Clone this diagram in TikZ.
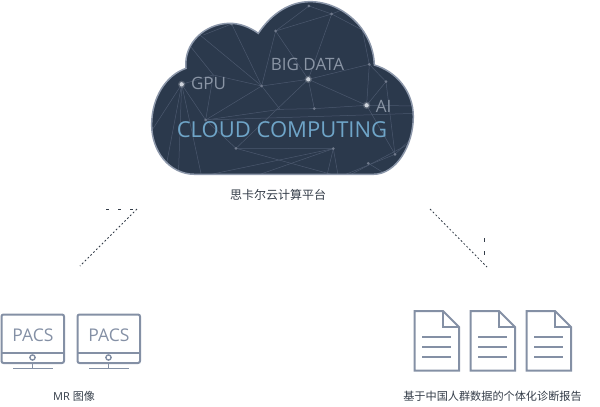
\documentclass[tikz,border=0pt]{standalone}
\usepackage{fontspec}
\setmainfont{Open Sans}
\newfontfamily\cjk{Noto Sans CJK SC}
\definecolor{cloudfill}{HTML}{2B394C}
\definecolor{cloudedge}{HTML}{8C97AA}
\definecolor{mesh}{HTML}{4B586E}
\definecolor{icon}{HTML}{8490A5}
\definecolor{greytext}{HTML}{8A95A5}
\definecolor{bluetext}{HTML}{6FA5C8}
\definecolor{caption}{HTML}{333C48}
\tikzset{
  meshline/.style={draw=mesh,line width=0.5pt},
  meshdot/.style={fill=icon!85!black},
  iconline/.style={draw=icon,line width=2pt},
  iconthin/.style={draw=icon,line width=1.6pt},
  dotlink/.style={draw=caption,line width=0.8pt,dash pattern=on 1.8pt off 2.2pt},
  cloudtext/.style={text=greytext,font=\fontsize{17}{17}\selectfont,inner sep=0pt},
  captiontext/.style={text=caption,inner sep=0pt},
  pacs/.style={text=icon,font=\fontsize{17.5}{18}\selectfont,inner sep=0pt}
}
\begin{document}
\begin{tikzpicture}[x=1pt,y=-1pt]
\useasboundingbox (0,0) rectangle (600,407);
\begin{scope}[shift={(140,0)},x=0.3333pt,y=-0.3333pt]
  \def\cloudpath{(165,523) .. controls (85,523) and (35,450) .. (35,375)
    .. controls (35,290) and (80,225) .. (138,205)
    .. controls (130,130) and (195,70) .. (270,70)
    .. controls (300,70) and (330,82) .. (355,100)
    .. controls (395,40) and (450,5) .. (510,5)
    .. controls (610,5) and (700,90) .. (703,195)
    .. controls (770,215) and (820,275) .. (820,350)
    .. controls (820,435) and (770,523) .. (700,523) -- cycle}
  \fill[cloudfill] \cloudpath;
  \begin{scope}
    \clip \cloudpath;
    \coordinate (A) at (125,253); \coordinate (B) at (275,72);
    \coordinate (C) at (365,258); \coordinate (D) at (407,93);
    \coordinate (E) at (507,18);  \coordinate (F) at (575,42);
    \coordinate (G) at (505,238); \coordinate (H) at (688,193);
    \coordinate (I) at (738,245); \coordinate (J) at (680,316);
    \coordinate (K) at (523,326); \coordinate (L) at (420,328);
    \coordinate (M) at (197,360); \coordinate (N) at (288,445);
    \coordinate (O) at (580,446); \coordinate (P) at (765,463);
    \coordinate (Q) at (685,490); \coordinate (R) at (220,225);
    \coordinate (S) at (667,90);
    \foreach \a/\b in {A/R,R/C,A/M,B/C,D/C,D/G,C/L,C/M,C/G,G/H,G/J,G/K,G/N,G/F,D/F,E/F,E/D,F/S,H/S,H/I,H/J,I/J,J/K,K/L,L/M,J/P,I/P,M/N,N/O,R/M}
      \draw[meshline] (\a) -- (\b);
    \foreach \a/\x/\y in {A/30/400,A/80/490,A/115/530,A/185/530,B/190/105,R/140/125,C/180/105,F/630/20,S/700/70,J/830/318,M/830/340,N/600/530,O/180/530,O/340/530,O/560/530,O/595/530,Q/750/530,P/600/530,P/830/400}
      \draw[meshline] (\a) -- (\x,\y);
    \draw[meshline] (620,530) -- (830,420);
    \foreach \p in {B,C,D,E,F,H,I,K,M,N,O,P,Q}
      \fill[meshdot] (\p) circle (4.5);
    \foreach \p in {A,G,J}{
      \fill[white,opacity=0.18] (\p) circle (11);
      \fill[white!60!icon] (\p) circle (6.5);
    }
  \end{scope}
  \draw[cloudedge,line width=1.5pt] \cloudpath;
\end{scope}

\node[cloudtext] (gpu) at (208.5,83) {GPU};
\node[cloudtext] (bigdata) at (307.5,64) {BIG DATA};
\node[cloudtext] (ai) at (383.5,106) {AI};
\node[inner sep=0pt,text=bluetext,font=\fontsize{22}{23}\selectfont] (cc) at (282,129.5) {CLOUD COMPUTING};
\node[captiontext,font=\cjk\fontsize{12}{12}\selectfont] (platform) at (278,195) {思卡尔云计算平台};

% dotted links
\coordinate (l1) at (137,209); \coordinate (l2) at (80,266);
\coordinate (r1) at (430,209); \coordinate (r2) at (487,267);
\coordinate (l3) at (106,209); \coordinate (l4) at (134,209);
\coordinate (r3) at (484.5,238); \coordinate (r4) at (484.5,255);
\draw[dotlink] (l1) -- (l2);
\draw[dotlink] (r1) -- (r2);
\draw[draw=caption,line width=0.8pt,dash pattern=on 3pt off 9pt] (l3) -- (l4);
\draw[draw=caption,line width=0.8pt,dash pattern=on 4pt off 9pt] (r3) -- (r4);

% monitors
\foreach \n/\dx in {one/0,two/76}{
  \begin{scope}[xshift=\dx pt]
    \draw[iconline,rounded corners=2pt] (1.5,314.5) rectangle (64,363);
    \draw[iconline] (1.5,353) -- (64,353);
    \draw[draw=icon,line width=1.4pt] (32.5,357.5) circle (2.6);
    \draw[iconthin] (32.5,363) -- (32.5,368.5);
    \draw[iconthin] (13,368.5) -- (53,368.5);
    \node[pacs] (pacs\n) at (33,335) {PACS};
  \end{scope}
}
\node[captiontext,font=\fontsize{11}{11}\selectfont] (mr) at (74,396) {MR {\cjk 图像}};

% documents
\foreach \dx in {0,56,112}{
  \begin{scope}[xshift=\dx pt]
    \draw[iconline,line join=miter] (443,311) -- (414.5,311) -- (414.5,370.5) -- (459,370.5) -- (459,327) -- cycle;
    \draw[iconline] (443,311) -- (443,327) -- (459,327);
    \draw[iconline] (422,337) -- (451,337) (422,347) -- (451,347) (422,357) -- (451,357);
  \end{scope}
}
\node[captiontext,font=\cjk\fontsize{11.15}{12}\selectfont] (report) at (492.5,396) {基于中国人群数据的个体化诊断报告};
\end{tikzpicture}
\end{document}
